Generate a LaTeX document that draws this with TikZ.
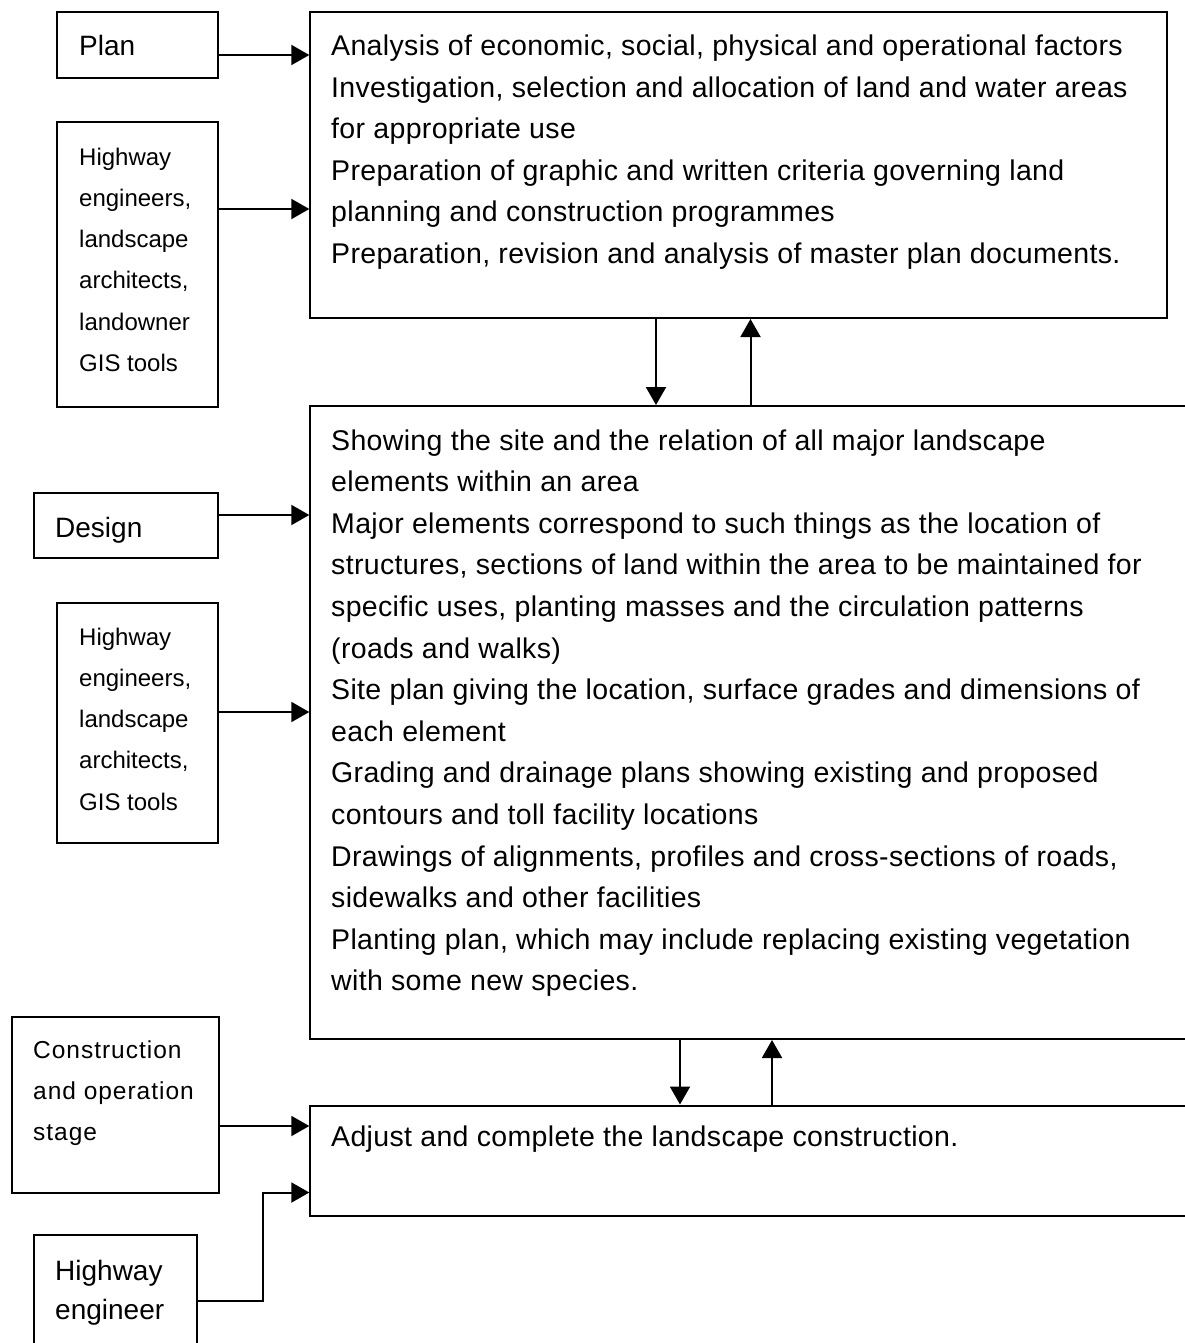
\documentclass[tikz,border=0pt]{standalone}
\usepackage{fontspec}
\setmainfont{Liberation Sans}
\usetikzlibrary{arrows.meta}
\tikzset{
  box/.style={draw=black, line width=2pt, inner sep=0pt, anchor=north west},
  maintxt/.style={anchor=base west, inner sep=0pt, align=left, font=\fontsize{28.5}{41.6}\selectfont\addfontfeature{LetterSpace=1.2}},
  sidetxt/.style={anchor=base west, inner sep=0pt, align=left, font=\fontsize{24}{41.3}\selectfont},
  labtxt/.style={anchor=base west, inner sep=0pt, align=left, font=\fontsize{28}{39}\selectfont},
  arr/.style={line width=2pt, -{Triangle[length=18pt,width=20pt]}}
}
\begin{document}
\begin{tikzpicture}[x=1pt,y=-1pt]
\useasboundingbox[fill=white] (0,0) rectangle (1184,1343);
% left boxes
\node[box, minimum width=161pt, minimum height=66pt] (plan) at (56,11) {};
\node[labtxt] (plant) at (79,56) {Plan};
\node[box, minimum width=161pt, minimum height=284pt] (inA) at (56,121.5) {};
\node[sidetxt] (inAt) at (79,371.5) {Highway\\engineers,\\landscape\\architects,\\landowner\\GIS tools};
\node[box, minimum width=184pt, minimum height=65pt] (design) at (33,492) {};
\node[labtxt] (designt) at (55,537) {Design};
\node[box, minimum width=161pt, minimum height=240pt] (inB) at (56,602) {};
\node[sidetxt] (inBt) at (79,810.2) {Highway\\engineers,\\landscape\\architects,\\GIS tools};
\node[box, minimum width=206.5pt, minimum height=176pt] (cons) at (11,1016) {};
\node[sidetxt, font=\fontsize{24.5}{41}\selectfont\addfontfeature{LetterSpace=4}] (const) at (33,1140) {Construction\\and operation\\stage};
\node[box, minimum width=163.5pt, minimum height=125pt] (heng) at (32.5,1234) {};
\node[labtxt] (hengt) at (55,1319) {Highway\\engineer};
% right boxes
\node[box, minimum width=856.5pt, minimum height=306pt] (top) at (309.3,11) {};
\node[maintxt] (topt) at (331,263.5) {Analysis of economic, social, physical and operational factors\\Investigation, selection and allocation of land and water areas\\for appropriate use\\Preparation of graphic and written criteria governing land\\planning and construction programmes\\Preparation, revision and analysis of master plan documents.};
\node[box, minimum width=890pt, minimum height=633pt] (mid) at (309.3,405) {};
\node[maintxt] (midt) at (331,990.8) {Showing the site and the relation of all major landscape\\elements within an area\\Major elements correspond to such things as the location of\\structures, sections of land within the area to be maintained for\\specific uses, planting masses and the circulation patterns\\(roads and walks)\\Site plan giving the location, surface grades and dimensions of\\each element\\Grading and drainage plans showing existing and proposed\\contours and toll facility locations\\Drawings of alignments, profiles and cross-sections of roads,\\sidewalks and other facilities\\Planting plan, which may include replacing existing vegetation\\with some new species.};
\node[box, minimum width=890pt, minimum height=110pt] (bot) at (309.3,1104.5) {};
\node[maintxt] (bott) at (331,1146.5) {Adjust and complete the landscape construction.};
% connectors
\draw[arr] (plan.east |- 0,55) -- (top.west |- 0,55);
\draw[arr] (inA.east |- 0,209) -- (top.west |- 0,209);
\draw[arr] (design.east |- 0,515) -- (mid.west |- 0,515);
\draw[arr] (inB.east |- 0,712) -- (mid.west |- 0,712);
\draw[arr] (cons.east |- 0,1126) -- (bot.west |- 0,1126);
\coordinate (hbend) at (263,1301);
\draw[arr] (heng.east |- hbend) -- (hbend) -- (hbend |- 0,1192.5) -- (bot.west |- 0,1192.5);
\draw[arr] (top.south -| 656,0) -- (mid.north -| 656,0);
\draw[arr] (mid.north -| 750.5,0) -- (top.south -| 750.5,0);
\draw[arr] (mid.south -| 680,0) -- (bot.north -| 680,0);
\draw[arr] (bot.north -| 772,0) -- (mid.south -| 772,0);
\end{tikzpicture}
\end{document}
